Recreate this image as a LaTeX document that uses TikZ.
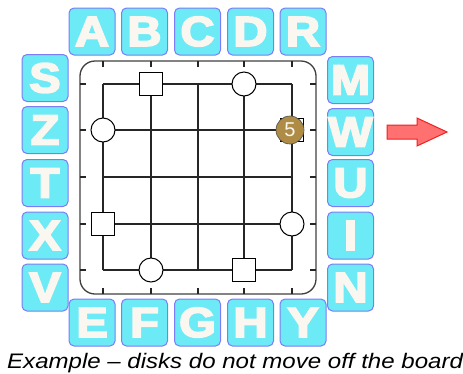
\documentclass[tikz,border=0pt]{standalone}
\usepackage{graphicx}
\usepackage{fontspec}
\setmainfont{Liberation Sans}
\newfontfamily\tilefont[FakeBold=4]{Liberation Sans Bold}
\definecolor{tilefill}{HTML}{6CEAF5}
\definecolor{tileedge}{HTML}{7C7CF8}
\definecolor{lettercol}{HTML}{FAF6F0}
\definecolor{gold}{HTML}{AF8C45}
\definecolor{arrowfill}{HTML}{FF7070}
\definecolor{arrowedge}{HTML}{F02020}
\newcommand{\tileletter}[1]{\scalebox{1.12}[1]{#1}}
\begin{document}
\begin{tikzpicture}[x=1pt,y=-1pt,
  tile/.style={draw=tileedge, fill=tilefill, line width=1pt, rounded corners=5pt,
    minimum width=46pt, minimum height=47pt, inner sep=0pt,
    font=\tilefont\fontsize{42}{42}\selectfont, text=lettercol},
  gridline/.style={line width=1.1pt, draw=black!85},
  board/.style={line width=1.3pt, draw=black!75, rounded corners=15pt},
  disk/.style={circle, draw, line width=1pt, fill=white, minimum size=24pt, inner sep=0pt},
  block/.style={rectangle, draw, line width=1pt, fill=white, minimum size=23pt, inner sep=0pt},
  golddisk/.style={circle, draw=black!70, line width=0.6pt, fill=gold, minimum size=28pt, inner sep=0pt,
    text=lettercol, font=\fontsize{20}{20}\selectfont},
  arrowshape/.style={fill=arrowfill, draw=arrowedge, line width=1pt},
  caption/.style={font=\itshape\fontsize{21}{22}\selectfont, inner sep=0pt}]
\useasboundingbox (0,0) rectangle (463,373);
% tiles top
\foreach \l/\x in {A/92,B/144.5,C/197.5,D/250.5,R/303}
  \node[tile] (t\l) at (\x,31.5) {\tileletter{\l}};
% tiles left
\foreach \l/\y in {S/78,Z/130,T/183,X/235.5,V/287.5}
  \node[tile] (t\l) at (45,\y) {\tileletter{\l}};
% tiles bottom
\foreach \l/\x in {E/92,F/144.5,G/197.5,H/250.5,Y/303}
  \node[tile] (t\l) at (\x,322.5) {\tileletter{\l}};
% tiles right
\foreach \l/\y in {M/80,W/132,U/183,I/235.5,N/287.5}
  \node[tile] (t\l) at (350.5,\y) {\tileletter{\l}};
% board
\draw[board] (80,61) rectangle (316,294);
\foreach \x in {103,151,198,244,292} {
  \draw[gridline] (\x,84) -- (\x,270);
  \draw[gridline] (\x,61) -- (\x,67);
  \draw[gridline] (\x,288) -- (\x,294);
}
\foreach \y in {84,130,177,224,270} {
  \draw[gridline] (103,\y) -- (292,\y);
  \draw[gridline] (80,\y) -- (86,\y);
  \draw[gridline] (310,\y) -- (316,\y);
}
% pieces
\node[block] (b1) at (151,84) {};
\node[disk] (c1) at (244,84) {};
\node[disk] (c2) at (103,130) {};
\node[block] (b2) at (292,130) {};
\node[block] (b3) at (103,224) {};
\node[disk] (c3) at (292,224) {};
\node[disk] (c4) at (151,270) {};
\node[block] (b4) at (244,270) {};
\node[golddisk] (g5) at (290,130) {5};
% arrow
\draw[arrowshape] (387,125) -- (417,125) -- (417,118) -- (447,132) -- (417,146) -- (417,139) -- (387,139) -- cycle;
% caption
\node[caption, anchor=base west] (cap) at (7,368) {\scalebox{1.145}[1]{Example -- disks do not move off the board}};
\end{tikzpicture}
\end{document}
